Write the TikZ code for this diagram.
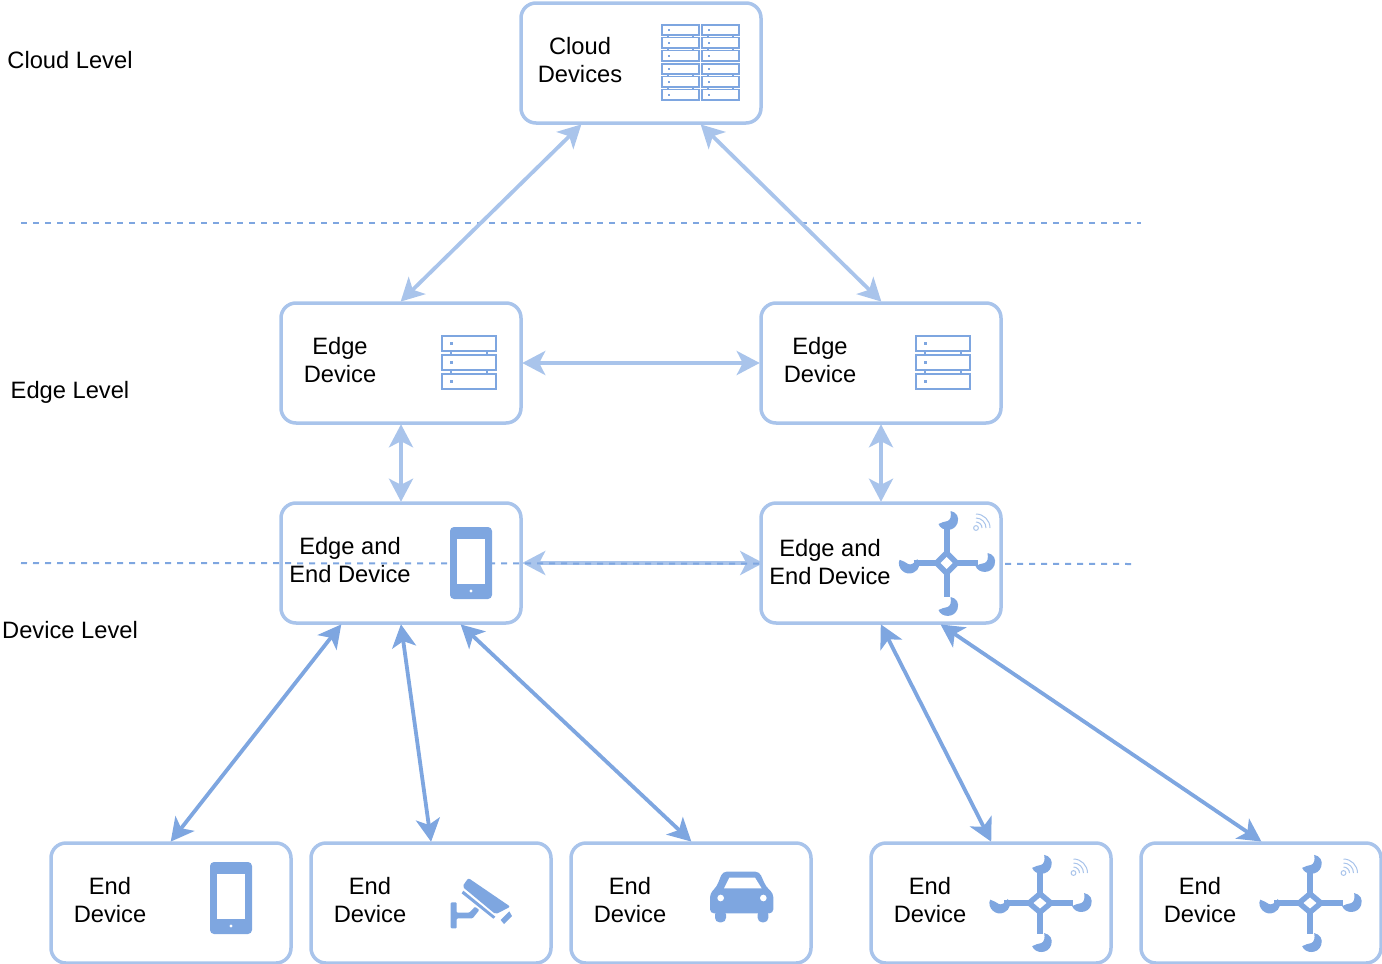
\documentclass[tikz,border=0pt]{standalone}
\usepackage{fontspec}
\setmainfont{Liberation Sans}
\usetikzlibrary{arrows.meta, positioning}
\definecolor{LinkLight}{HTML}{A9C4EB}
\definecolor{LinkDark}{HTML}{7EA6E0}
\tikzset{
  devbox/.style={draw=LinkLight, line width=3.5pt, rounded corners=15pt, minimum width=240pt, minimum height=120pt, inner sep=0pt},
  devtext/.style={font=\fontsize{23.7}{28}\selectfont, align=center, inner sep=0pt},
  lightlink/.style={{Stealth[length=23pt,width=24pt,inset=6pt]}-{Stealth[length=23pt,width=24pt,inset=6pt]}, draw=LinkLight, line width=3.8pt, shorten <=-.5pt, shorten >=-.5pt},
  darklink/.style={lightlink, draw=LinkDark},
  levelline/.style={draw=LinkDark, line width=2pt, dash pattern=on 6pt off 6pt},
  pics/rackstack/.style={code={
    \foreach \yy in {-27,-8,11} {
      \draw[LinkDark, line width=#1] (-27,\yy) rectangle (27,\yy+15);
      \fill[LinkDark] (-19,\yy+6) rectangle (-16,\yy+9);
    }
    \foreach \yy in {-12,7} {
      \draw[LinkDark, line width=#1] (-18,\yy) -- (-18,\yy+4) (18,\yy) -- (18,\yy+4);
    }
  }},
  phoneicon/.pic={
    \fill[LinkDark, rounded corners=4pt] (-21,-36) rectangle (21,36);
    \fill[white] (-14,-24) rectangle (14,21);
    \fill[white] (0,28) circle (1.6);
  },
  % one hook of the hub, opening to the upper left
  hubhook/.pic={
    \fill[LinkDark] (-10,4) .. controls (-7,12) and (6,12) .. (9,3) .. controls (11,-3) and (8,-8) .. (2,-9) .. controls (3,-4) and (2,0) .. (-1,1) .. controls (-4,2) and (-7,2) .. (-10,4) -- cycle;
  },
  hubicon/.pic={
    \draw[LinkDark, line width=6pt] (0,-40) -- (0,34) (-33,0) -- (31,0);
    \fill[LinkDark] (0,-14) -- (14,0) -- (0,14) -- (-14,0) -- cycle;
    \fill[white] (0,-6) -- (6,0) -- (0,6) -- (-6,0) -- cycle;
    \pic at (2,-43) {hubhook};
    \pic at (39,-1) {hubhook};
    \pic at (2,43) {hubhook};
    \pic[rotate=-45] at (-37,1) {hubhook};
  },
  wifiicon/.pic={
    \draw[LinkLight, line width=1pt] (0,0) circle (2.4);
    \foreach \rr in {6,10,14} {
      \draw[LinkLight, line width=1pt] (0,-\rr) .. controls (.55*\rr,-\rr) and (\rr,-.55*\rr) .. (\rr,0);
    }
  },
  cameraicon/.pic={
    \fill[LinkDark, rounded corners=2pt] (97,80) -- (115,54) -- (241,140) -- (197,163) -- cycle;
    \fill[LinkDark] (95,100) -- (100,92) -- (196,170) -- (190,176) -- cycle;
    \fill[LinkDark] (238,154) -- (246,168) -- (222,192) -- (212,180) -- cycle;
    \fill[LinkDark, rounded corners=1pt] (62,127) -- (80,127) -- (80,158) -- (118,158) -- (135,140) -- (148,150) -- (128,175) -- (80,175) -- (80,205) -- (62,205) -- cycle;
  },
  caricon/.pic={
    \fill[LinkDark, rounded corners=4pt] (60,160) -- (60,100) -- (80,80) -- (98,35) -- (208,35) -- (228,80) -- (250,100) -- (250,160) -- cycle;
    \fill[LinkDark, rounded corners=4.5pt] (75,150) -- (75,187) -- (108,187) -- (108,150) -- cycle;
    \fill[LinkDark, rounded corners=4.5pt] (203,150) -- (203,187) -- (235,187) -- (235,150) -- cycle;
    \fill[white] (118,53) -- (195,53) -- (215,85) -- (102,85) -- cycle;
    \fill[white] (92,114) circle (10);
    \fill[white] (220,114) circle (10);
  },
}
\begin{document}
\begin{tikzpicture}[x=1pt, y=-1pt]
\useasboundingbox (0,0) rectangle (1382,964);
% level captions
\node[devtext] (cloudcap) at (70,60) {Cloud Level};
\node[devtext] (edgecap) at (70,392) {Edge Level};
\node[devtext] (devcap) at (70,630) {Device Level};

% boxes
\node[devbox] (cloud) at (641,63) {};
\node[devbox] (edgeL) at (401,363) {};
\node[devbox] (edgeR) at (881,363) {};
\node[devbox] (mixL) at (401,563) {};
\node[devbox, fill=white] (endD) at (991,903) {};
\node[devbox] (endA) at (171,903) {};
\node[devbox] (endB) at (431,903) {};
\node[devbox] (endC) at (691,903) {};
\node[devbox] (endE) at (1261,903) {};

% level separators
\coordinate (sepA) at (21,223);
\coordinate (sepB) at (1141,223);
\coordinate (sepC) at (21,563);
\coordinate (sepD) at (1135,564);
\draw[levelline] (sepA) -- (sepB);
\draw[lightlink] (mixL.east) -- ++(240,0) coordinate (mixin);
\draw[levelline] (sepC) -- (sepD);
\node[devbox, fill=white] (mixR) at (881,563) {};

% links
\draw[lightlink] ([xshift=-60pt]cloud.south) -- (edgeL.north);
\draw[lightlink] ([xshift=60pt]cloud.south) -- (edgeR.north);
\draw[lightlink] (edgeL.east) -- (edgeR.west);
\draw[lightlink] (edgeL.south) -- (mixL.north);
\draw[lightlink] (edgeR.south) -- (mixR.north);
\draw[darklink] ([xshift=-60pt]mixL.south) -- (endA.north);
\draw[darklink] (mixL.south) -- (endB.north);
\draw[darklink] ([xshift=60pt]mixL.south) -- (endC.north);
\draw[darklink] (mixR.south) -- (endD.north);
\draw[darklink] ([xshift=60pt]mixR.south) -- (endE.north);

% box texts
\node[devtext] (cloudtxt) at (580,60) {Cloud\\Devices};
\node[devtext] (edgeLtxt) at (340,360) {Edge\\Device};
\node[devtext] (edgeRtxt) at (820,360) {Edge\\Device};
\node[devtext] (mixLtxt) at (350,560) {Edge and\\End Device};
\node[devtext] (mixRtxt) at (830,562) {Edge and\\End Device};
\node[devtext] (endAtxt) at (110,900) {End\\Device};
\node[devtext] (endBtxt) at (370,900) {End\\Device};
\node[devtext] (endCtxt) at (630,900) {End\\Device};
\node[devtext] (endDtxt) at (930,900) {End\\Device};
\node[devtext] (endEtxt) at (1200,900) {End\\Device};

% icons
\pic[scale=.68] at (680.5,43) {rackstack=1.8pt};
\pic[scale=.68] at (720.5,43) {rackstack=1.8pt};
\pic[scale=.68] at (680.5,82) {rackstack=1.8pt};
\pic[scale=.68] at (720.5,82) {rackstack=1.8pt};
\pic at (469,363) {rackstack=2.6pt};
\pic at (943,363) {rackstack=2.6pt};
\pic at (471,563) {phoneicon};
\pic at (231,898) {phoneicon};
\pic at (946.5,563) {hubicon};
\pic at (976,528) {wifiicon};
\pic[xscale=1.08, yscale=.91] at (1040,903) {hubicon};
\pic[xscale=1.08, yscale=.91] at (1310,903) {hubicon};
\pic at (1073.5,873) {wifiicon};
\pic at (1343.5,873) {wifiicon};
\pic[scale=.3333] at (430,860) {cameraicon};
\pic[scale=.3333] at (690,860) {caricon};
\end{tikzpicture}
\end{document}
